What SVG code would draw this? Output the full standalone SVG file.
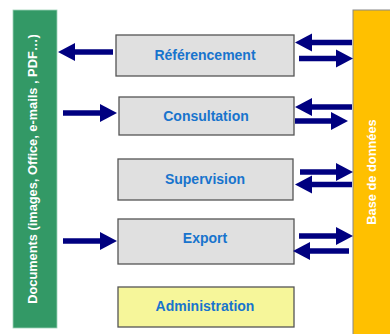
<svg xmlns="http://www.w3.org/2000/svg" width="390" height="334" viewBox="0 0 390 334">
<defs>
<style>
.box{fill:#e0e0e0;stroke:#555;stroke-width:1.3}
.admin{fill:#f6f69a;stroke:#555;stroke-width:1.3}
.lbl{font-family:"Liberation Sans",Arial,sans-serif;font-weight:bold;font-size:14px;fill:#1874cd;text-anchor:middle}
.side{font-family:"Liberation Sans",Arial,sans-serif;font-weight:bold;font-size:12.8px;fill:#fff;text-anchor:middle}
.arr{stroke:#000080;stroke-width:5.5;fill:none;marker-end:url(#ah)}
</style>
<marker id="ah" markerUnits="userSpaceOnUse" markerWidth="17" markerHeight="18" refX="0" refY="9" orient="auto" overflow="visible">
<path d="M0,0 L17,9 L0,18 Z" fill="#000080"/>
</marker>
</defs>
<rect width="390" height="334" fill="#fff"/>
<g id="documents">
<rect x="13" y="10" width="44" height="318" fill="#339966" stroke="#9fd2b8" stroke-width="0.8"/>
<text class="side" transform="translate(37,169) rotate(-90)">Documents (images, Office, e-mails , PDF…)</text>
</g>
<g id="base">
<rect x="353" y="10" width="40" height="330" fill="#ffc000" stroke="#888" stroke-width="1"/>
<text class="side" transform="translate(376,172) rotate(-90)">Base de données</text>
</g>
<g id="referencement">
<rect class="box" x="116" y="35" width="178" height="41"/>
<text class="lbl" x="205" y="60">Référencement</text>
</g>
<g id="consultation">
<rect class="box" x="119" y="97" width="175" height="38"/>
<text class="lbl" x="206" y="121">Consultation</text>
</g>
<g id="supervision">
<rect class="box" x="118" y="159" width="175" height="41"/>
<text class="lbl" x="205" y="184">Supervision</text>
</g>
<g id="export">
<rect class="box" x="118" y="219" width="176" height="45"/>
<text class="lbl" x="205" y="243">Export</text>
</g>
<g id="administration">
<rect class="admin" x="118" y="287" width="176" height="40"/>
<text class="lbl" x="205" y="311">Administration</text>
</g>
<g id="connectors">
<line class="arr" x1="113" y1="52" x2="75" y2="52"/>
<line class="arr" x1="63" y1="113" x2="100" y2="113"/>
<line class="arr" x1="63" y1="241" x2="100" y2="241"/>
<line class="arr" x1="352" y1="42.5" x2="312" y2="42.5"/>
<line class="arr" x1="299" y1="58.5" x2="336" y2="58.5"/>
<line class="arr" x1="352" y1="107" x2="312" y2="107"/>
<line class="arr" x1="295" y1="121" x2="331" y2="121"/>
<line class="arr" x1="300" y1="172" x2="336" y2="172"/>
<line class="arr" x1="352" y1="184.5" x2="312" y2="184.5"/>
<line class="arr" x1="299" y1="236" x2="336" y2="236"/>
<line class="arr" x1="349" y1="251" x2="310" y2="251"/>
</g>
</svg>
